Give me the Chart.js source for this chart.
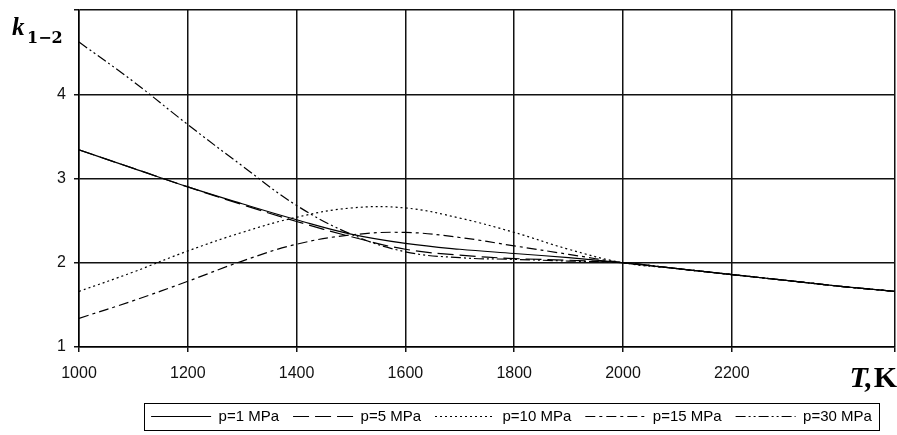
<!DOCTYPE html>
<html>
<head>
<meta charset="utf-8">
<script src="https://cdn.jsdelivr.net/npm/chart.js@4.4.0/dist/chart.umd.min.js"></script>
<style>
  html, body { margin: 0; padding: 0; background: #fff; }
</style>
</head>
<body>
<canvas id="k-chart" width="897" height="435"></canvas>
<script>
// temperature, K
var temps = [1000, 1100, 1200, 1300, 1400, 1500, 1600, 1700, 1800, 1900, 2000, 2100, 2200, 2300, 2400, 2500]

// k1-2, one array per pressure
var k_p1  = [3.34, 3.12, 2.90, 2.70, 2.51, 2.34, 2.23, 2.16, 2.11, 2.06, 2.00, 1.93, 1.86, 1.79, 1.72, 1.66]
var k_p5  = [3.34, 3.12, 2.90, 2.69, 2.49, 2.31, 2.16, 2.09, 2.05, 2.03, 2.00, 1.93, 1.86, 1.79, 1.72, 1.66]
var k_p10 = [1.66, 1.89, 2.14, 2.36, 2.54, 2.65, 2.65, 2.53, 2.36, 2.16, 2.00, 1.93, 1.86, 1.79, 1.72, 1.66]
var k_p15 = [1.34, 1.55, 1.78, 2.02, 2.22, 2.33, 2.36, 2.30, 2.20, 2.10, 2.00, 1.93, 1.86, 1.79, 1.72, 1.66]
var k_p30 = [4.62, 4.15, 3.64, 3.15, 2.68, 2.34, 2.13, 2.06, 2.04, 2.02, 2.00, 1.93, 1.86, 1.79, 1.72, 1.66]

var series_labels = ['p=1 MPa', 'p=5 MPa', 'p=10 MPa', 'p=15 MPa', 'p=30 MPa']
var series_data = [k_p1, k_p5, k_p10, k_p15, k_p30]
var series_dash = [[], [16, 6], [2, 3], [10, 4, 3, 4], [10, 3, 2, 3, 2, 3]]

var x_tick_labels = ['1000', '1200', '1400', '1600', '1800', '2000', '2200']
var y_tick_labels = ['1', '2', '3', '4']

function to_points(arr) {
  return arr.map(function(v, i) { return { x: temps[i], y: v } })
}

var datasets = series_data.map(function(arr, i) {
  return {
    label: series_labels[i],
    data: to_points(arr),
    borderColor: '#000',
    backgroundColor: '#000',
    borderWidth: 1.2,
    borderDash: series_dash[i],
    pointRadius: 0,
    tension: 0.4,
    fill: false
  }
})

var legend_shift = 64

// move the legend right (it is off-centre in the original), then frame it and add axis titles
var decor = {
  id: 'decor',
  afterLayout(chart) {
    var lg = chart.legend
    lg.left += legend_shift
    lg.right += legend_shift
    lg.legendHitBoxes.forEach(function(b) { b.left += legend_shift })
  },
  afterDraw(chart) {
    var c = chart.ctx
    c.save()
    c.fillStyle = '#000'
    c.textBaseline = 'alphabetic'
    c.textAlign = 'left'
    c.font = 'bold italic 25px "Liberation Serif"'
    c.fillText('k', 12, 35)
    c.font = 'bold 16px "DejaVu Serif"'
    c.fillText('1\u22122', 27, 43)

    c.textAlign = 'right'
    c.font = 'bold 30px "Liberation Serif"'
    var kw = c.measureText('K').width
    c.fillText('K', 897, 387)
    c.font = 'bold italic 30px "Liberation Serif"'
    c.fillText('T,', 897 - kw - 1, 387)

    var boxes = chart.legend.legendHitBoxes
    if (boxes && boxes.length) {
      var l = boxes[0].left - 7
      var last = boxes[boxes.length - 1]
      var r = last.left + last.width + 7
      c.strokeStyle = '#000'
      c.lineWidth = 1
      c.strokeRect(Math.round(l) + 0.5, 403.5, Math.round(r - l), 27)
    }
    c.restore()
  }
}

new Chart(document.getElementById('k-chart').getContext('2d'), {
  type: 'line',
  data: { datasets: datasets },
  options: {
    responsive: false,
    animation: false,
    layout: { padding: { top: 10, right: 2, left: 0, bottom: 1 } },
    scales: {
      x: {
        type: 'linear',
        min: 1000,
        max: 2500,
        border: { display: true, color: '#000', width: 1.5 },
        grid: { color: '#111', lineWidth: 1.5, tickLength: 5, tickColor: '#111' },
        ticks: {
          stepSize: 200,
          padding: 12,
          color: '#111',
          font: { family: '"Liberation Sans", Arial', size: 16 },
          maxRotation: 0,
          callback: function(v) {
            var s = String(v)
            return x_tick_labels.indexOf(s) >= 0 ? s : ''
          }
        },
        afterFit: function(scale) {
          scale.height = 48
          scale.paddingLeft = 0
          scale.paddingRight = 0
        }
      },
      y: {
        min: 1,
        max: 5,
        border: { display: true, color: '#000', width: 1.5 },
        grid: { color: '#111', lineWidth: 1.5, tickLength: 5, tickColor: '#111' },
        ticks: {
          stepSize: 1,
          padding: 8,
          color: '#111',
          font: { family: '"Liberation Sans", Arial', size: 16 },
          callback: function(v) {
            var s = String(v)
            return y_tick_labels.indexOf(s) >= 0 ? s : ''
          }
        },
        afterFit: function(scale) {
          scale.width = 79
          scale.paddingTop = 0
          scale.paddingBottom = 0
        }
      }
    },
    plugins: {
      tooltip: { enabled: false },
      legend: {
        position: 'bottom',
        labels: {
          usePointStyle: true,
          pointStyle: 'line',
          pointStyleWidth: 60,
          color: '#000',
          padding: 14,
          font: { family: '"Liberation Sans", Arial', size: 15 },
          generateLabels: function(chart) {
            return chart.data.datasets.map(function(ds, i) {
              return {
                text: ds.label,
                strokeStyle: '#000',
                fillStyle: '#000',
                lineWidth: 1.2,
                lineDash: ds.borderDash,
                pointStyle: 'line',
                datasetIndex: i,
                fontColor: '#000'
              }
            })
          }
        }
      }
    }
  },
  plugins: [decor]
})
</script>
</body>
</html>
